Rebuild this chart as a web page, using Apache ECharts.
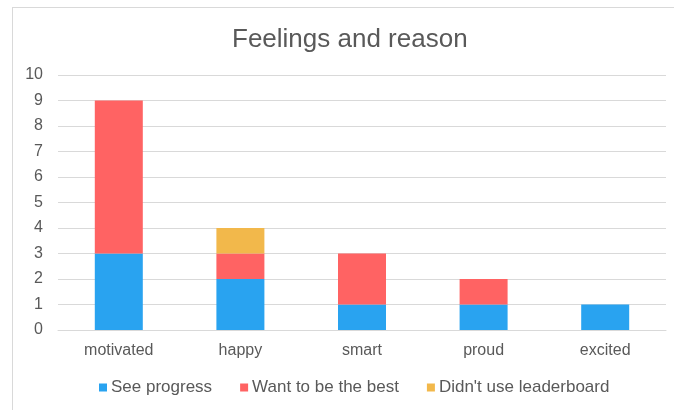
<!DOCTYPE html>
<html><head><meta charset="utf-8">
<script src="https://cdn.jsdelivr.net/npm/echarts@6/dist/echarts.min.js"></script>
<style>html,body{margin:0;padding:0;background:#fff}#c{width:674px;height:410px}
#frame{position:absolute;left:12px;top:7px;width:680px;height:420px;border:1px solid #d9d9d9;pointer-events:none}</style>
</head><body><div id="c"></div><div id="frame"></div>
<script>
const categories = ['motivated','happy','smart','proud','excited'];
const seeProgress = [3,2,1,1,1];
const wantBest = [6,1,2,1,0];
const didntUse = [0,1,0,0,0];
const seriesNames = ['See progress','Want to be the best',"Didn't use leaderboard"];
const colors = ['#29A3F0','#FF6363','#F2B84B'];
const chart = echarts.init(document.getElementById('c'));
const font = 'Liberation Sans, Arial, sans-serif';
function s(name, data, color){
  return {name, type:'bar', stack:'a', data, barWidth:48, itemStyle:{color}};
}
chart.setOption({
  animation:false,
  title:{text:'Feelings and reason', left:227, top:22, textStyle:{fontFamily:font, fontSize:26, fontWeight:'normal', color:'#595959'}},
  grid:{left:58, right:8, top:75, bottom:80},
  legend:{bottom:9, left:94, itemWidth:8, itemHeight:8, itemGap:28, icon:'rect',
    textStyle:{fontFamily:font, fontSize:17, color:'#595959', padding:[0,0,0,-1]}, data:seriesNames},
  xAxis:{type:'category', data:categories, axisTick:{show:false},
    axisLine:{lineStyle:{color:'#d9d9d9'}},
    axisLabel:{fontFamily:font, fontSize:16, color:'#595959', margin:13}},
  yAxis:{type:'value', min:0, max:10, interval:1,
    axisLabel:{fontFamily:font, fontSize:16, color:'#595959', margin:15},
    splitLine:{lineStyle:{color:'#d9d9d9'}}},
  series:[s(seriesNames[0], seeProgress, colors[0]), s(seriesNames[1], wantBest, colors[1]), s(seriesNames[2], didntUse, colors[2])]
});
</script></body></html>
